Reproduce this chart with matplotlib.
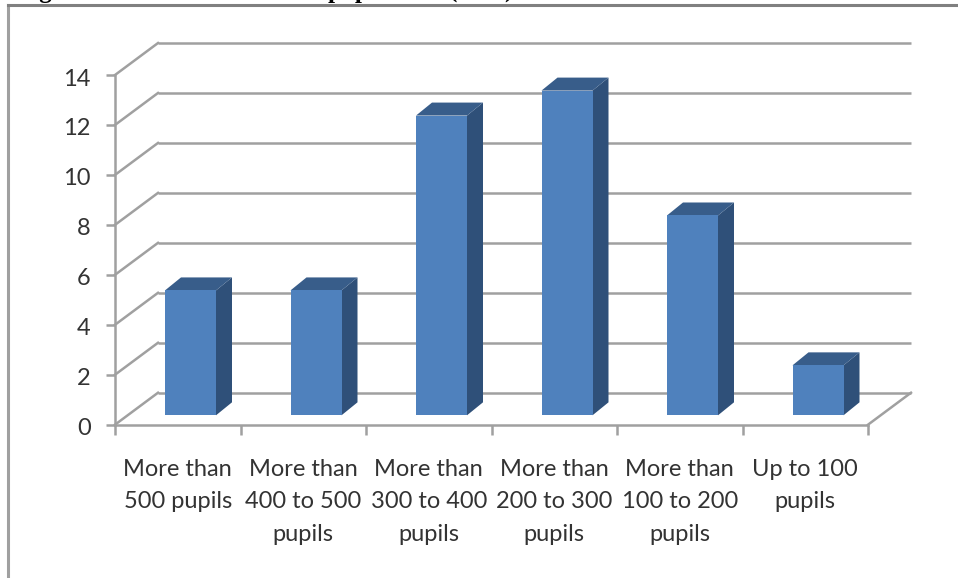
import matplotlib
matplotlib.use("Agg")
import matplotlib.pyplot as plt
from matplotlib.lines import Line2D
from matplotlib.transforms import ScaledTranslation

# data
categories = ["More than\n500 pupils", "More than\n400 to 500\npupils", "More than\n300 to 400\npupils",
              "More than\n200 to 300\npupils", "More than\n100 to 200\npupils", "Up to 100\npupils"]
counts = [5, 5, 12, 13, 8, 2]
y_ticks = [0, 2, 4, 6, 8, 10, 12, 14]

W, H = 958, 578
GRID = "#a0a0a0"
FRONT = "#4f81bd"
SIDE = "#2f5079"
TOP = "#385d8a"
TEXT = "#333333"

# fake 3d: offsets of the back wall and of the bar boxes, in data units
wall_dx = 43 / 125.5
wall_dy = 32 / 25
bar_left = 50 / 125.5
bar_w = 51 / 125.5
bar_lift = 9.4 / 25
box_dx = 16 / 125.5
box_dy = 13 / 25

plt.rcParams["font.family"] = ["Lato", "DejaVu Sans"]

fig = plt.figure(figsize=(W / 100, H / 100), dpi=100)
ax = fig.add_axes([115 / W, (H - 424.7) / H, (868 - 115) / W, 349.7 / H])
ax.set_xlim(0, len(counts))
ax.set_ylim(0, 14)
ax.patch.set_visible(False)

for s in ["top", "right"]:
    ax.spines[s].set_visible(False)
for s in ["left", "bottom"]:
    ax.spines[s].set_color(GRID)
    ax.spines[s].set_linewidth(1.8)

# back wall lines and the diagonals on the side wall
for v in y_ticks:
    ax.plot([wall_dx, len(counts) + wall_dx], [v + wall_dy, v + wall_dy], color=GRID, lw=1.8,
            clip_on=False, zorder=1, solid_capstyle="butt")
    ax.plot([0, wall_dx], [v, v + wall_dy], color=GRID, lw=1.8, clip_on=False, zorder=1)
ax.plot([len(counts), len(counts) + wall_dx], [0, wall_dy], color=GRID, lw=1.8, clip_on=False, zorder=1)

# bars, each one front + side + top face
for i, v in enumerate(counts):
    x0 = i + bar_left
    x1 = x0 + bar_w
    y0 = bar_lift
    y1 = bar_lift + v
    ax.fill([x1, x1 + box_dx, x1 + box_dx, x1], [y0, y0 + box_dy, y1 + box_dy, y1], color=SIDE, lw=0,
            clip_on=False, zorder=3)
    ax.fill([x0, x0 + box_dx, x1 + box_dx, x1], [y1, y1 + box_dy, y1 + box_dy, y1], color=TOP, lw=0,
            clip_on=False, zorder=3)
    ax.fill([x0, x1, x1, x0], [y0, y0, y1, y1], color=FRONT, lw=0, clip_on=False, zorder=4)

ax.set_yticks(y_ticks)
ax.tick_params(axis="y", length=6.5, width=1.8, color=GRID, labelcolor=TEXT, labelsize=17, pad=11)
ax.set_xticks(range(len(counts) + 1))
ax.set_xticklabels([])
ax.tick_params(axis="x", which="major", length=7, width=1.8, color=GRID)
ax.set_xticks([i + 0.5 for i in range(len(counts))], minor=True)
ax.set_xticklabels(categories, minor=True, linespacing=1.65)
ax.tick_params(axis="x", which="minor", length=0, labelcolor=TEXT, labelsize=17, pad=25)

# nudge the value labels down a little
for lab in ax.get_yticklabels():
    lab.set_transform(lab.get_transform() + ScaledTranslation(0, -2 / 100, fig.dpi_scale_trans))

# chart frame, open on the right
fig.add_artist(Line2D([8 / W, 8 / W], [0, 1 - 5 / H], color="#a0a0a0", lw=2.2))
fig.add_artist(Line2D([8 / W, 1], [1 - 5 / H, 1 - 5 / H], color="#808080", lw=2.2))

# caption above the frame, cut off by the page edge
for x, s in [(18, "Figure"), (328, "pupils"), (449, "(2011)")]:
    fig.text(x / W, 1 + 2 / H, s, family="Liberation Serif", weight="bold", fontsize=18, va="baseline",
             ha="left", color="black")

fig.savefig("out.png", dpi=100)
